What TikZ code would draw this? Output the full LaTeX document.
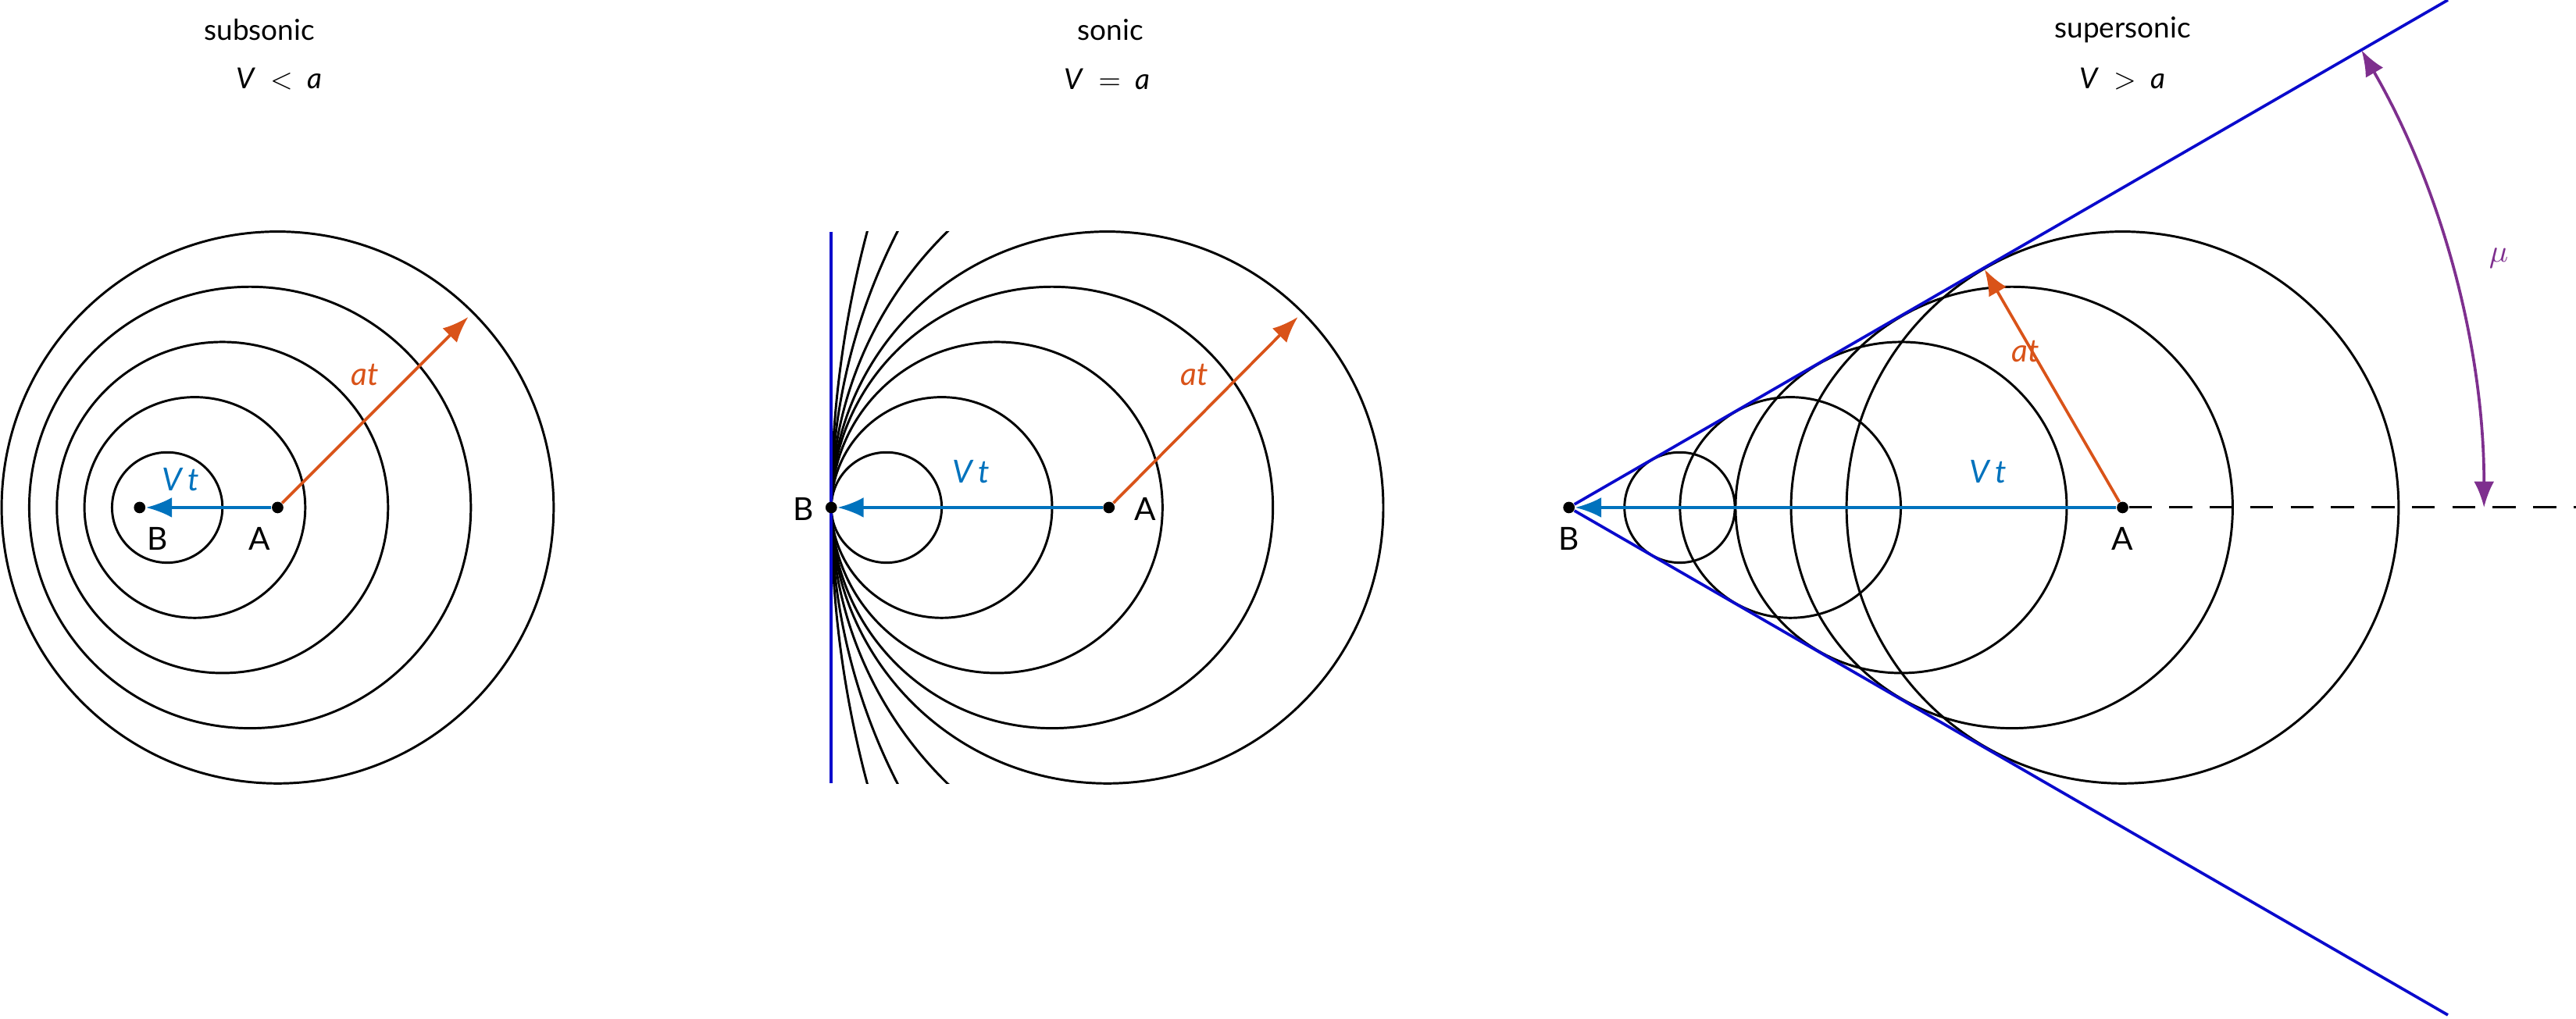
\documentclass[tikz,border=0pt]{standalone}
\usepackage{fontspec}
\setmainfont{Lato}
\usetikzlibrary{arrows.meta}
\definecolor{cor}{HTML}{D95319}
\definecolor{cbl}{HTML}{0072BD}
\definecolor{cpu}{HTML}{7E2F8E}
\definecolor{cln}{HTML}{0A0ACC}
\begin{document}
\begin{tikzpicture}[x=0.02cm,y=-0.02cm,
  wave/.style={black,line width=0.8pt},
  vt/.style={cbl,line width=1pt,-{Latex[length=9pt,width=7pt]}},
  atar/.style={cor,line width=1pt,-{Latex[length=9pt,width=7pt]}},
  dot/.style={circle,fill=black,inner sep=0pt,minimum size=0.14cm},
  lab/.style={font=\fontsize{11}{13}\selectfont},
  ttl/.style={font=\fontsize{10}{12}\selectfont}]
\useasboundingbox (0,0) rectangle (1568,620);
% titles
\node[ttl] (t1) at (158,18) {subsonic};
\node[ttl] (m1) at (170,48) {\textit{V} \ $<$ \ \textit{a}};
\node[ttl] (t2) at (676,18) {sonic};
\node[ttl] (m2) at (674,48) {\textit{V} \ $=$ \ \textit{a}};
\node[ttl] (t3) at (1292,18) {supersonic};
\node[ttl] (m3) at (1292,48) {\textit{V} \ $>$ \ \textit{a}};
% subsonic
\foreach \k in {1,...,5}{\draw[wave] ({85+16.8*\k},309) circle[radius={33.6*\k}];}
\node[dot] (A1) at (169,309) {};
\node[dot] (B1) at (85,309) {};
\coordinate (T1) at (285,193);
\draw[vt] (A1) -- (B1);
\draw[atar] (A1) -- (T1);
\node[lab] (la1) at (158,328) {A};
\node[lab] (lb1) at (96,328) {B};
\node[lab,cbl] (v1) at (110,292) {\textit{V\,t}};
\node[lab,cor] (a1) at (222,228) {\textit{at}};
% sonic
\foreach \k in {1,...,5}{\draw[wave] ({506+33.6*\k},309) circle[radius={33.6*\k}];}
\begin{scope}
\clip (506,141) rectangle (600,477);
\foreach \r in {235,370,652}{\draw[wave] ({506+\r},309) circle[radius=\r];}
\end{scope}
\coordinate (L1) at (506,141);
\coordinate (L2) at (506,477);
\draw[cln,line width=1pt] (L1) -- (L2);
\node[dot] (B2) at (506,309) {};
\node[dot] (A2) at (675,309) {};
\coordinate (T2) at (790,193);
\draw[vt] (A2) -- (B2);
\draw[atar] (A2) -- (T2);
\node[lab] (la2) at (697,310) {A};
\node[lab] (lb2) at (489,310) {B};
\node[lab,cbl] (v2) at (591,287) {\textit{V\,t}};
\node[lab,cor] (a2) at (727,228) {\textit{at}};
% supersonic
\foreach \k in {1,...,5}{\draw[wave] ({955+67.4*\k},309) circle[radius={33.6*\k}];}
\node[dot] (B3) at (955,309) {};
\node[dot] (A3) at (1292,309) {};
\coordinate (U1) at (1490,0);
\coordinate (U2) at (1490,618);
\coordinate (E3) at (1568,309);
\coordinate (T3) at (1208,164);
\draw[cln,line width=1pt] (B3) -- (U1);
\draw[cln,line width=1pt] (B3) -- (U2);
\draw[black,line width=0.8pt,dash pattern=on 8pt off 6pt] (A3) -- (E3);
\draw[vt] (A3) -- (B3);
\draw[atar] (A3) -- (T3);
\draw[cpu,line width=1pt,{Latex[length=9pt,width=7pt]}-{Latex[length=9pt,width=7pt]}] (1512,309) arc[start angle=0,end angle=-30,radius=557];
\node[lab] (la3) at (1292,328) {A};
\node[lab] (lb3) at (955,328) {B};
\node[lab,cbl] (v3) at (1210,287) {\textit{V\,t}};
\node[lab,cor] (a3) at (1233,214) {\textit{at}};
\node[lab,cpu] (mu) at (1521,157) {$\mu$};
\end{tikzpicture}
\end{document}
